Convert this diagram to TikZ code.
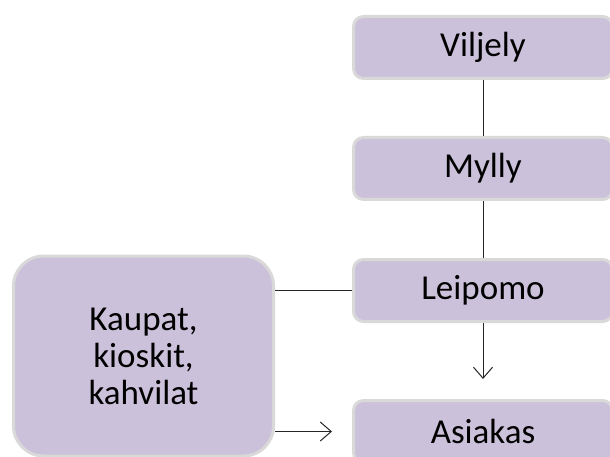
\documentclass[tikz,border=0pt]{standalone}
\usepackage{fontspec}
\setmainfont{Carlito}
\usepackage{tikz}
\usetikzlibrary{arrows.meta, positioning, calc}
\definecolor{lilac}{HTML}{CCC1DA}
\definecolor{rim}{HTML}{D9D9D9}

\begin{document}
\begin{tikzpicture}[
    x=1pt, y=-1pt,
    node distance=56pt,
    stage/.style={rectangle, rounded corners=10pt, draw=rim, line width=3pt, fill=lilac, minimum width=259pt, minimum height=62pt, font=\fontsize{35}{37}\selectfont, inner sep=0pt},
    shops/.style={stage, rounded corners=30pt, minimum width=260pt, minimum height=200pt, align=center},
    link/.style={line width=1pt, draw=black!85},
    arrow/.style={link, -{Straight Barb[length=11pt, width=19pt]}}
]
\useasboundingbox (0,0) rectangle (610,457);
\node[stage] (viljely) at (483,47.5) {Viljely};
\node[stage, below=of viljely] (mylly) {Mylly};
\node[stage, below=57pt of mylly] (leipomo) {Leipomo};
\node[stage, below=76pt of leipomo] (asiakas) {Asiakas};
\node[shops] (kaupat) at (143.5,356) {Kaupat,\\kioskit,\\kahvilat};

\draw[link] (viljely) -- (mylly);
\draw[link] (mylly) -- (leipomo);
\draw[arrow, shorten >=20pt] (leipomo) -- (asiakas);
\draw[link] (leipomo.west) -- (leipomo.west -| kaupat.east);
\draw[arrow, shorten >=20pt] (kaupat.east |- asiakas.west) -- (asiakas.west);
\end{tikzpicture}
\end{document}
